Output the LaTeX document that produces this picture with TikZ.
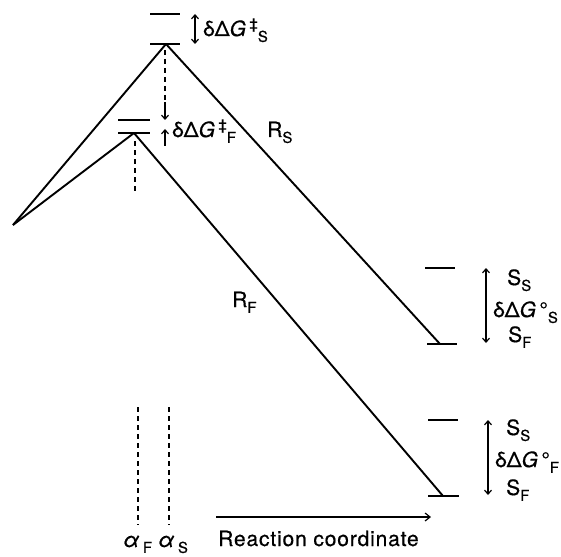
\documentclass[tikz,border=0pt]{standalone}
\usepackage{fontspec}
\setmainfont{TeX Gyre Heros}[FakeBold=0.6]
\newfontfamily\lblfont{TeX Gyre Heros}[FakeBold=0.6]
\usetikzlibrary{arrows.meta}
\newcommand\mysub[1]{\raisebox{-0.28em}{\fontsize{15}{15}\selectfont #1}}
\newcommand\mysup[1]{\raisebox{0.33em}{\fontsize{15}{15}\selectfont #1}}
\begin{document}
\begin{tikzpicture}[x=1pt,y=-1pt,
  curve/.style={line width=1.9pt, line join=round},
  level/.style={line width=1.5pt},
  barb/.tip={Straight Barb[length=4pt,width=7pt]},
  dim/.style={line width=1.2pt, barb-barb},
  onearrow/.style={line width=1.2pt, -barb},
  dashline/.style={line width=1.2pt, dash pattern=on 5pt off 4pt},
  lbl/.style={inner sep=0pt, font=\lblfont\fontsize{21}{24}\selectfont}]
\useasboundingbox (0,0) rectangle (561,556);
% main points
\coordinate (L) at (13,225);
\coordinate (PS) at (166,44);
\coordinate (PF) at (134,133);
\coordinate (ES) at (440,344);
\coordinate (EF) at (443,496);
\draw[curve] (L) -- (PS) -- (ES);
\draw[curve] (L) -- (PF) -- (EF);
% levels at top
\coordinate (t1a) at (150,14); \coordinate (t1b) at (180,14);
\coordinate (t2a) at (150,44); \coordinate (t2b) at (180,44);
\coordinate (f1a) at (118,120); \coordinate (f1b) at (150,120);
\coordinate (f2a) at (118,133); \coordinate (f2b) at (150,133);
\draw[level] (t1a) -- (t1b);
\draw[level] (t2a) -- (t2b);
\draw[level] (f1a) -- (f1b);
\draw[level] (f2a) -- (f2b);
% right levels
\coordinate (r1a) at (425,268); \coordinate (r1b) at (455,268);
\coordinate (r2a) at (427,344); \coordinate (r2b) at (457,344);
\coordinate (r3a) at (428,420); \coordinate (r3b) at (458,420);
\coordinate (r4a) at (428,496); \coordinate (r4b) at (459,496);
\draw[level] (r1a) -- (r1b);
\draw[level] (r2a) -- (r2b);
\draw[level] (r3a) -- (r3b);
\draw[level] (r4a) -- (r4b);
% double arrows
\coordinate (aS1) at (195,14); \coordinate (aS2) at (195,44);
\draw[dim] (aS1) -- (aS2);
\coordinate (aR1) at (486,268); \coordinate (aR2) at (486,343);
\draw[dim] (aR1) -- (aR2);
\coordinate (aQ1) at (488,420); \coordinate (aQ2) at (488,495);
\draw[dim] (aQ1) -- (aQ2);
% dashed drop from S peak with arrow to F level
\coordinate (d1) at (165,50); \coordinate (d2) at (165,102);
\coordinate (d3) at (165,120);
\draw[dashline] (d1) -- (d2);
\draw[onearrow] (d2) -- (d3);
\coordinate (u1) at (165,146); \coordinate (u2) at (165,129);
\draw[onearrow] (u1) -- (u2);
% dashed below F peak
\coordinate (df1) at (135,141); \coordinate (df2) at (135,194);
\draw[dashline] (df1) -- (df2);
% alpha dashed lines
\coordinate (aF1) at (138,407); \coordinate (aF2) at (138,525);
\coordinate (aS1b) at (169,407); \coordinate (aS2b) at (169,525);
\draw[dashline] (aF1) -- (aF2);
\draw[dashline] (aS1b) -- (aS2b);
% reaction coordinate arrow
\coordinate (rc1) at (216,517); \coordinate (rc2) at (431,517);
\draw[line width=1.2pt, -{Straight Barb[length=5pt,width=8pt]}] (rc1) -- (rc2);
% labels
\node[lbl, anchor=base west] (gS) at (203,36) {δΔ\textit{G}\,\mysup{‡}\mysub{S}};
\node[lbl, anchor=base west] (gF) at (172,137) {δΔ\textit{G}\,\mysup{‡}\mysub{F}};
\node[lbl, anchor=base west] (RS) at (267,137) {R\mysub{S}};
\node[lbl, anchor=base west] (RF) at (232,307) {R\mysub{F}};
\node[lbl, anchor=base west] (SS1) at (507,285) {S\mysub{S}};
\node[lbl, anchor=base west] (g0S) at (493,317) {δΔ\textit{G}\,°\mysub{S}};
\node[lbl, anchor=base west] (SF1) at (508,342) {S\mysub{F}};
\node[lbl, anchor=base west] (SS2) at (506,435) {S\mysub{S}};
\node[lbl, anchor=base west] (g0F) at (495,467) {δΔ\textit{G}\,°\mysub{F}};
\node[lbl, anchor=base west] (SF2) at (506,495) {S\mysub{F}};
\node[lbl, anchor=base west] (alF) at (123,547) {\textit{α}\,\mysub{F}};
\node[lbl, anchor=base west] (alS) at (158,547) {\textit{α}\,\mysub{S}};
\node[lbl, anchor=base west] (rc) at (218,546) {\addfontfeature{LetterSpace=4}Reaction coordinate};
\end{tikzpicture}
\end{document}
